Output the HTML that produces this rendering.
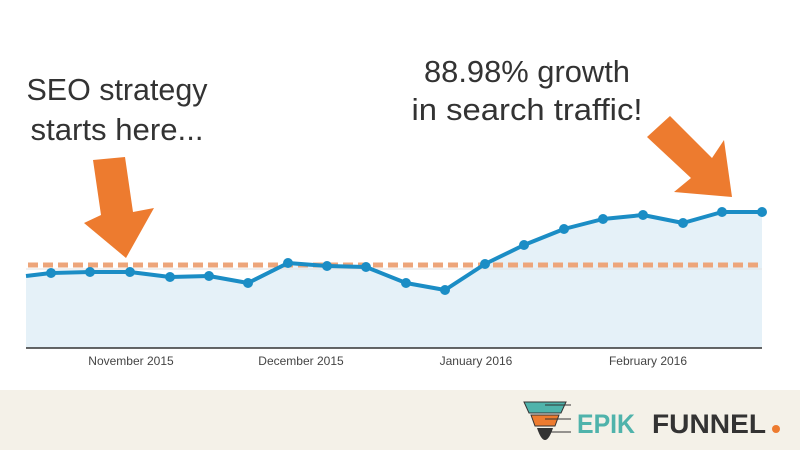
<!DOCTYPE html>
<html><head><style>
body{margin:0;width:800px;height:450px;overflow:hidden;background:#fff;font-family:"Liberation Sans",sans-serif}
</style></head><body>
<svg width="800" height="450" viewBox="0 0 800 450" xmlns="http://www.w3.org/2000/svg">
<rect x="0" y="0" width="800" height="450" fill="#fff"/>
<polygon fill="#e5f1f8" points="26,348 26,276 51,273 90,272 130,272 170,277 209,276 248,283 288,263 327,266 366,267 406,283 445,290 485,264 524,245 564,229 603,219 643,215 683,223 722,212 762,212 762,348"/>
<line x1="26" y1="269" x2="762" y2="269" stroke="#e2e2e2" stroke-width="1"/>
<line x1="26" y1="348" x2="762" y2="348" stroke="#333" stroke-width="1.5"/>
<line x1="28" y1="265" x2="762" y2="265" stroke="#eda57a" stroke-width="5" stroke-dasharray="10,5"/>
<polyline fill="none" stroke="#1b8dc5" stroke-width="4" stroke-linejoin="round" points="26,276 51,273 90,272 130,272 170,277 209,276 248,283 288,263 327,266 366,267 406,283 445,290 485,264 524,245 564,229 603,219 643,215 683,223 722,212 762,212"/>
<g fill="#1b8dc5">
<circle cx="51" cy="273" r="5"/><circle cx="90" cy="272" r="5"/><circle cx="130" cy="272" r="5"/><circle cx="170" cy="277" r="5"/><circle cx="209" cy="276" r="5"/><circle cx="248" cy="283" r="5"/><circle cx="288" cy="263" r="5"/><circle cx="327" cy="266" r="5"/><circle cx="366" cy="267" r="5"/><circle cx="406" cy="283" r="5"/><circle cx="445" cy="290" r="5"/><circle cx="485" cy="264" r="5"/><circle cx="524" cy="245" r="5"/><circle cx="564" cy="229" r="5"/><circle cx="603" cy="219" r="5"/><circle cx="643" cy="215" r="5"/><circle cx="683" cy="223" r="5"/><circle cx="722" cy="212" r="5"/><circle cx="762" cy="212" r="5"/>
</g>
<g font-size="12" fill="#444" text-anchor="middle">
<text x="131" y="365">November 2015</text>
<text x="301" y="365">December 2015</text>
<text x="476" y="365">January 2016</text>
<text x="648" y="365">February 2016</text>
</g>
<g fill="#ed7b2f">
<polygon points="93,160 125,157 133,212 154,208 126,258 84,223 101,215"/>
<polygon points="647,137 670,116 712,158 724,140 732,197 674,192 691,178"/>
</g>
<g font-size="31" fill="#333" text-anchor="middle">
<text x="117" y="100" textLength="181" lengthAdjust="spacingAndGlyphs">SEO strategy</text>
<text x="117" y="140" textLength="173" lengthAdjust="spacingAndGlyphs">starts here...</text>
<text x="527" y="82" textLength="206" lengthAdjust="spacingAndGlyphs">88.98% growth</text>
<text x="527" y="120" textLength="231" lengthAdjust="spacingAndGlyphs">in search traffic!</text>
</g>
<rect x="0" y="390" width="800" height="60" fill="#f4f1e8"/>
<polygon points="524,402 566,402 561,413 529,413" fill="#4fb3ab" stroke="#333" stroke-width="1"/>
<polygon points="531,415 559,415 555,426 535,426" fill="#ed7b2f" stroke="#333" stroke-width="1"/>
<path d="M537,428 L553,428 Q549,440 545,440 Q541,440 537,428 Z" fill="#333"/>
<g stroke="#333" stroke-width="1"><line x1="545" y1="405" x2="571" y2="405"/><line x1="545" y1="419" x2="571" y2="419"/><line x1="545" y1="432" x2="571" y2="432"/></g>
<text x="577" y="433" font-size="27" font-weight="bold" fill="#4fb3ab" textLength="58" lengthAdjust="spacingAndGlyphs">EPIK</text>
<text x="652" y="433" font-size="27" font-weight="bold" fill="#333" textLength="114" lengthAdjust="spacingAndGlyphs">FUNNEL</text>
<circle cx="776" cy="429" r="4" fill="#ed7b2f"/>
</svg>
</body></html>
